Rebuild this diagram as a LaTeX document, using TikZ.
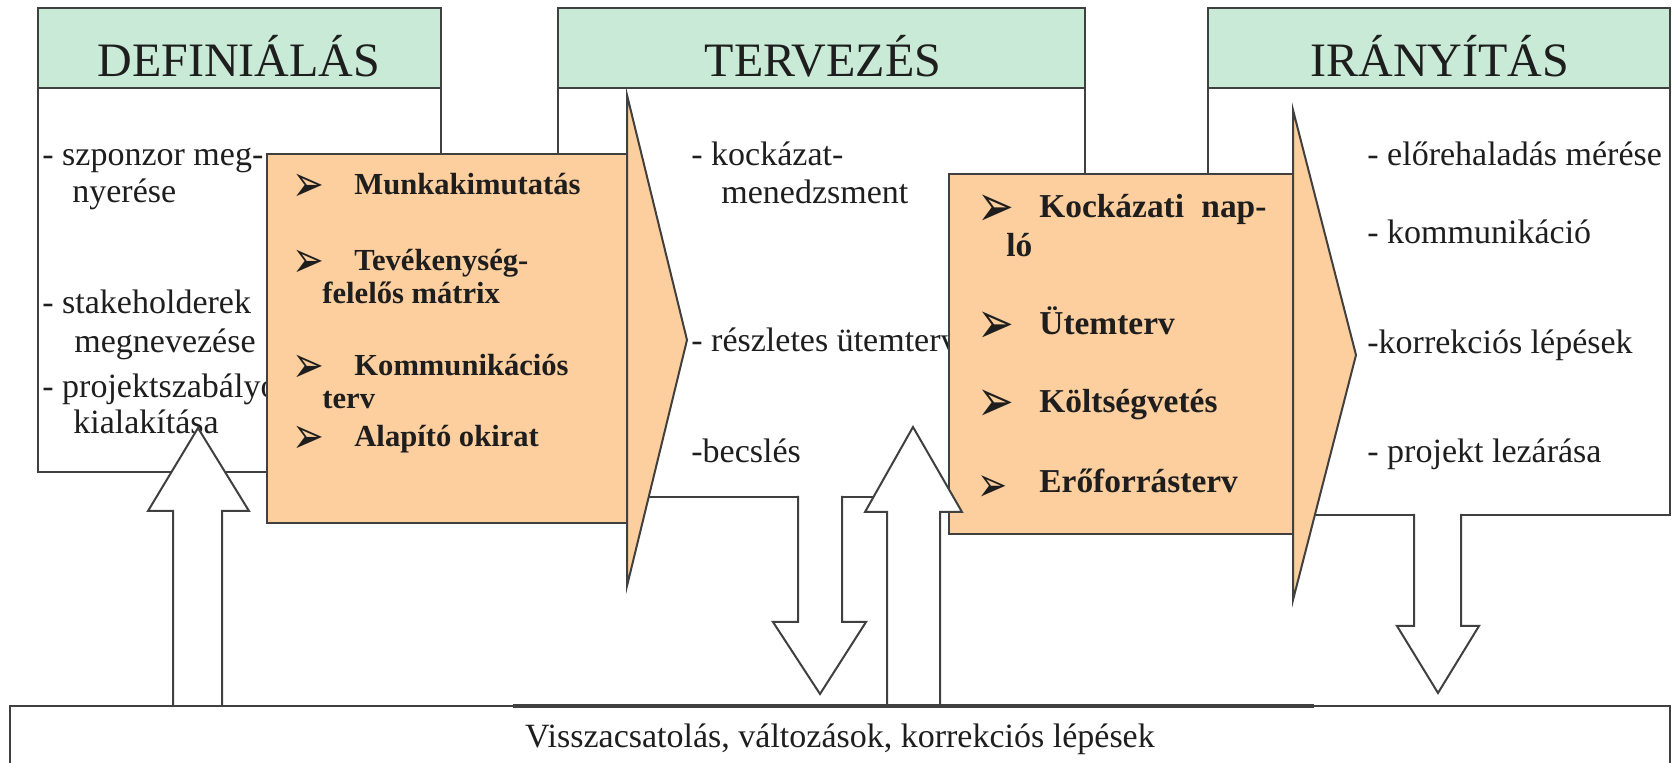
\documentclass[tikz,border=0pt]{standalone}
\usepackage{fontspec}
\setmainfont{Liberation Serif}
\newfontfamily\dejavu{DejaVu Sans}
\usetikzlibrary{fit}
\definecolor{linec}{RGB}{64,64,64}
\definecolor{hdrgreen}{RGB}{200,234,214}
\definecolor{orng}{RGB}{253,206,158}
\definecolor{textc}{RGB}{30,30,30}
\newcommand{\bulglyph}{\scalebox{1}[1.35]{➢}}
\begin{document}
\begin{tikzpicture}[x=0.5pt,y=-0.5pt,
  box/.style={draw=linec, line width=1pt, fill=white, inner sep=0pt},
  hdrbox/.style={box, fill=hdrgreen},
  obox/.style={box, fill=orng},
  blockshape/.style={draw=linec, line width=1pt, line join=miter},
  title/.style={anchor=base, inner sep=0pt, text=textc, font=\fontsize{24pt}{28pt}\selectfont},
  txt/.style={anchor=base west, inner sep=0pt, text=textc, font=\fontsize{17pt}{20pt}\selectfont},
  bta/.style={anchor=base west, inner sep=0pt, text=textc, font=\bfseries\fontsize{15.3pt}{18pt}\selectfont},
  btb/.style={anchor=base west, inner sep=0pt, text=textc, font=\bfseries\fontsize{16.7pt}{20pt}\selectfont},
  bula/.style={anchor=west, inner sep=0pt, text=textc, font=\dejavu\fontsize{19pt}{22pt}\selectfont},
  bulb/.style={anchor=west, inner sep=0pt, text=textc, font=\dejavu\fontsize{22pt}{26pt}\selectfont},
  bulc/.style={anchor=west, inner sep=0pt, text=textc, font=\dejavu\fontsize{18pt}{21pt}\selectfont},
]
\useasboundingbox (0,0) rectangle (1677,763);
\clip (0,0) rectangle (1677,763);

% body boxes
\node[box, fit={(38,88) (441,472)}] (b1) {};
\node[box, fit={(558,88) (1085,497)}] (b2) {};
\node[box, fit={(1208,88) (1670,515)}] (b3) {};

% headers
\node[hdrbox, fit={(38,8) (441,88)}] (h1) {};
\node[hdrbox, fit={(558,8) (1085,88)}] (h2) {};
\node[hdrbox, fit={(1208,8) (1670,88)}] (h3) {};
\node[title] (ht1) at (239,77) {DEFINIÁLÁS};
\node[title] (ht2) at (823,77) {TERVEZÉS};
\node[title] (ht3) at (1440,77) {IRÁNYÍTÁS};

% body texts 1
\node[txt] (d1) at (42,166) {- szponzor meg-};
\node[txt] (d2) at (72,203) {nyerése};
\node[txt] (d3) at (42,314) {- stakeholderek};
\node[txt] (d4) at (74,353) {megnevezése};
\node[txt] (d5) at (42,398) {- projektszabályok};
\node[txt] (d6) at (73,434) {kialakítása};

% body texts 2
\node[txt] (e1) at (691,166) {- kockázat-};
\node[txt] (e2) at (721,204) {menedzsment};
\node[txt] (e3) at (691,352) {- részletes ütemterv};
\node[txt] (e4) at (691,463) {-becslés};

% body texts 3
\node[txt] (f1) at (1367,166) {- előrehaladás mérése};
\node[txt] (f2) at (1367,244) {- kommunikáció};
\node[txt] (f3) at (1367,354) {-korrekciós lépések};
\node[txt] (f4) at (1367,463) {- projekt lezárása};

% down arrows
\draw[blockshape, fill=white] (798,496) -- (798,622) -- (773,622) -- (820,694) -- (866,622) -- (842,622) -- (842,496);
\draw[blockshape, fill=white] (1414,514) -- (1414,626) -- (1397,626) -- (1438,693) -- (1479,626) -- (1461,626) -- (1461,514);

% orange chevron 1
\node[obox, fit={(267,154) (627,523)}] (o1) {};
\draw[blockshape, fill=orng] (627,95) -- (687,340) -- (627,586) -- cycle;
% orange chevron 2
\node[obox, fit={(949,174) (1293,534)}] (o2) {};
\draw[blockshape, fill=orng] (1293,110) -- (1356,355) -- (1293,600) -- cycle;

% orange texts 1
\node[bula] (ua1) at (292,188) {\bulglyph};
\node[bta] (g1) at (354,195) {Munkakimutatás};
\node[bula] (ua2) at (292,264) {\bulglyph};
\node[bta] (g2) at (354,271) {Tevékenység-};
\node[bta] (g3) at (322,304) {felelős mátrix};
\node[bula] (ua3) at (292,369) {\bulglyph};
\node[bta] (g4) at (354,376) {Kommunikációs};
\node[bta] (g5) at (322,409) {terv};
\node[bula] (ua4) at (292,440) {\bulglyph};
\node[bta] (g6) at (354,447) {Alapító okirat};

% orange texts 2
\node[bulb] (ub1) at (977,211) {\bulglyph};
\node[btb] (k1) at (1039,218) {\makebox[113.5pt][s]{Kockázati nap-}};
\node[btb] (k2) at (1006,257) {ló};
\node[bulb] (ub2) at (977,328) {\bulglyph};
\node[btb] (k3) at (1039,335) {Ütemterv};
\node[bulb] (ub3) at (977,406) {\bulglyph};
\node[btb] (k4) at (1039,413) {Költségvetés};
\node[bulc] (ub4) at (977,489) {\bulglyph};
\node[btb] (k5) at (1039,493) {Erőforrásterv};

% up arrows
\draw[blockshape, fill=white] (173,707) -- (173,511) -- (148,511) -- (198,428) -- (249,511) -- (222,511) -- (222,707);
\draw[blockshape, fill=white] (887,707) -- (887,512) -- (865,512) -- (913,427) -- (962,512) -- (940,512) -- (940,707);

% bottom box
\node[box, fit={(10,706) (1670,790)}] (fb) {};
\draw[draw=linec, line width=1.6pt] (513,706) -- (1314,706);
\node[anchor=base, inner sep=0pt, text=textc, font=\fontsize{17pt}{20pt}\selectfont] (fbt) at (840,748) {Visszacsatolás, változások, korrekciós lépések};
\end{tikzpicture}
\end{document}
